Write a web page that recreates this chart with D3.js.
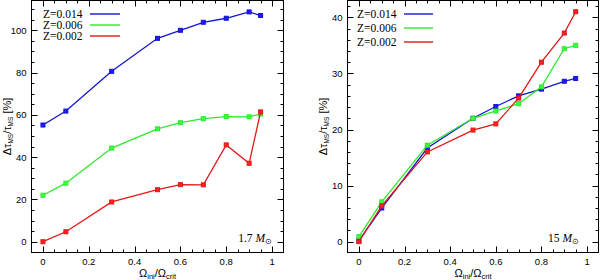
<!DOCTYPE html>
<html>
<head>
<meta charset="utf-8">
<script src="https://cdn.jsdelivr.net/npm/d3@7"></script>
<style>
  body { margin: 0; background: #fff; }
  svg text { fill: #000; }
  .tick-label { font-family: "Liberation Sans", Arial, sans-serif; font-size: 9.5px; }
  .legend { font-family: "Liberation Serif", "Times New Roman", serif; font-size: 11.5px; }
  .axis-title { font-family: "Liberation Sans", Arial, sans-serif; font-size: 11px; }
</style>
</head>
<body>
<svg id="chart" width="600" height="280"></svg>
<script>
// rotation rate, Omega_ini / Omega_crit
var omega = [0, 0.1, 0.3, 0.5, 0.6, 0.7, 0.8, 0.9, 0.95];
var seriesNames = ["Z=0.014", "Z=0.006", "Z=0.002"];
var colors = ["#1414d2", "#2ee82e", "#e01818"];

// 1.7 Msun panel, delta tau_MS / tau_MS in %
var low014 = [55.2, 61.8, 80.6, 96.2, 100.0, 103.8, 105.7, 108.7, 107.0];
var low006 = [22.0, 27.7, 44.3, 53.4, 56.3, 58.2, 59.2, 59.1, 60.4];
var low002 = [0.0, 4.7, 18.8, 24.6, 27.0, 26.9, 45.8, 37.1, 61.4];

// 15 Msun panel
var high014 = [0.2, 6.0, 16.7, 22.0, 24.1, 26.0, 27.2, 28.6, 29.1];
var high006 = [0.9, 7.1, 17.2, 22.0, 23.3, 24.6, 27.6, 34.4, 35.0];
var high002 = [0.0, 6.4, 16.0, 19.9, 21.0, 25.6, 32.0, 37.2, 41.0];

var xTicks = [0, 0.2, 0.4, 0.6, 0.8, 1];
var lowYTicks = [0, 20, 40, 60, 80, 100];
var highYTicks = [0, 10, 20, 30, 40];

var svg = d3.select("#chart");

function panel(opt) {
  var x = d3.scaleLinear().domain([-0.05, 1.05]).range([opt.left, opt.right]);
  var y = d3.scaleLinear().domain(opt.yDomain).range([opt.bottom, opt.top]);
  var g = svg.append("g");

  g.append("rect")
    .attr("x", opt.left).attr("y", opt.top)
    .attr("width", opt.right - opt.left).attr("height", opt.bottom - opt.top)
    .attr("fill", "none").attr("stroke", "#000").attr("stroke-width", 1);

  // inward ticks on all four sides
  var xMinor = d3.range(0, 1.0001, 0.05);
  xMinor.forEach(function(v) {
    var major = Math.abs(v * 5 - Math.round(v * 5)) < 1e-6;
    var len = major ? 6 : 3;
    var px = Math.round(x(v)) + 0.5;
    g.append("line").attr("x1", px).attr("x2", px)
      .attr("y1", opt.bottom).attr("y2", opt.bottom - len).attr("stroke", "#000");
    g.append("line").attr("x1", px).attr("x2", px)
      .attr("y1", opt.top).attr("y2", opt.top + len).attr("stroke", "#000");
  });
  var yMinor = d3.range(0, opt.yDomain[1], opt.minorStep);
  yMinor.forEach(function(v) {
    var major = opt.yTicks.indexOf(Math.round(v * 1000) / 1000) >= 0;
    var len = major ? 6 : 3;
    var py = Math.round(y(v)) + 0.5;
    g.append("line").attr("y1", py).attr("y2", py)
      .attr("x1", opt.left).attr("x2", opt.left + len).attr("stroke", "#000");
    g.append("line").attr("y1", py).attr("y2", py)
      .attr("x1", opt.right).attr("x2", opt.right - len).attr("stroke", "#000");
  });

  g.selectAll("text.xt").data(xTicks).enter().append("text")
    .attr("class", "tick-label")
    .attr("x", function(d) { return x(d); })
    .attr("y", opt.bottom + 12)
    .attr("text-anchor", "middle")
    .text(function(d) { return d; });

  g.selectAll("text.yt").data(opt.yTicks).enter().append("text")
    .attr("class", "tick-label")
    .attr("x", opt.left - 5)
    .attr("y", function(d) { return y(d) + 3.5; })
    .attr("text-anchor", "end")
    .text(function(d) { return d; });

  // axis titles
  var xt = g.append("text").attr("class", "axis-title")
    .attr("x", (x(0) + x(1)) / 2).attr("y", opt.bottom + 24)
    .attr("text-anchor", "middle");
  xt.append("tspan").text("\u03a9");
  xt.append("tspan").attr("font-size", "7.5px").attr("dy", 2.5).text("ini");
  xt.append("tspan").attr("dy", -2.5).text("/\u03a9");
  xt.append("tspan").attr("font-size", "7.5px").attr("dy", 2.5).text("crit");

  var yt = g.append("text").attr("class", "axis-title")
    .attr("transform", "translate(" + (opt.left - 21) + "," + ((opt.top + opt.bottom) / 2) + ") rotate(-90)")
    .attr("text-anchor", "middle");
  yt.append("tspan").text("\u0394\u03c4");
  yt.append("tspan").attr("font-size", "6.5px").attr("dy", 2).text("MS");
  yt.append("tspan").attr("dy", -2).text("/\u03c4");
  yt.append("tspan").attr("font-size", "6.5px").attr("dy", 2).text("MS");
  yt.append("tspan").attr("dy", -2).text(" [%]");

  // series
  var line = d3.line()
    .x(function(d, i) { return x(omega[i]); })
    .y(function(d) { return y(d); });

  opt.series.forEach(function(vals, k) {
    g.append("path").datum(vals)
      .attr("d", line)
      .attr("fill", "none")
      .attr("stroke", colors[k])
      .attr("stroke-width", 1.3);
    g.selectAll("rect.m" + k).data(vals).enter().append("rect")
      .attr("x", function(d, i) { return x(omega[i]) - 2; })
      .attr("y", function(d) { return y(d) - 2; })
      .attr("width", 4).attr("height", 4)
      .attr("fill", d3.color(colors[k]).brighter(0.8))
      .attr("stroke", colors[k]).attr("stroke-width", 1);
  });

  // legend
  seriesNames.forEach(function(name, k) {
    var ly = opt.legendY[k];
    g.append("text").attr("class", "legend")
      .attr("x", opt.legendX).attr("y", ly + 4)
      .text(name);
    g.append("line")
      .attr("x1", opt.legendLine[0]).attr("x2", opt.legendLine[1])
      .attr("y1", ly).attr("y2", ly)
      .attr("stroke", colors[k]).attr("stroke-width", 1.4);
  });

  // mass label
  var ml = g.append("text").attr("class", "legend")
    .attr("x", opt.massX).attr("y", opt.bottom - 11)
    .attr("text-anchor", "end");
  ml.append("tspan").text(opt.mass + " ");
  ml.append("tspan").attr("font-style", "italic").text("M");
  ml.append("tspan").attr("font-size", "8px").attr("dy", 2).text("\u2299");
}

panel({
  left: 31.5, right: 283.5, top: 0.5, bottom: 252.5,
  yDomain: [-5.1, 114.1], yTicks: lowYTicks, minorStep: 5,
  series: [low014, low006, low002],
  legendX: 43, legendLine: [90, 120], legendY: [14, 25, 36],
  mass: "1.7", massX: 272
});

panel({
  left: 347.5, right: 598.5, top: 0.5, bottom: 252.5,
  yDomain: [-1.93, 43.0], yTicks: highYTicks, minorStep: 2,
  series: [high014, high006, high002],
  legendX: 357, legendLine: [404, 433], legendY: [14, 28, 42],
  mass: "15", massX: 579
});
</script>
</body>
</html>
